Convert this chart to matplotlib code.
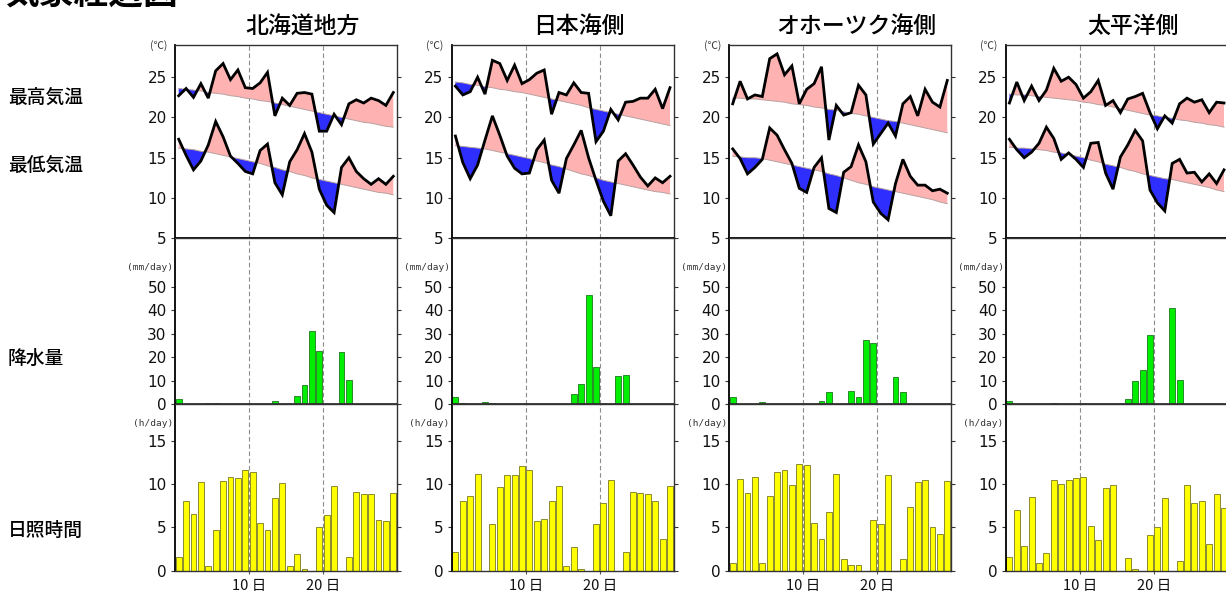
import matplotlib
matplotlib.use("Agg")
import matplotlib.pyplot as plt
import numpy as np

plt.rcParams['font.family'] = ['Noto Sans CJK JP', 'DejaVu Sans']

regions = ["北海道地方", "日本海側", "オホーツク海側", "太平洋側"]
days = list(range(1, 31))

tmax = [
    [22.7,23.6,22.5,24.2,22.4,25.8,26.7,24.7,25.9,23.7,23.6,24.3,25.6,20.2,22.4,21.5,23.0,23.1,22.9,18.3,18.3,20.4,19.1,21.7,22.2,21.8,22.4,22.1,21.5,23.1],
    [23.9,22.8,23.2,25.0,22.9,27.1,26.7,24.6,26.5,24.2,24.7,25.5,25.9,20.4,23.1,22.8,24.3,23.1,23.0,17.0,18.3,21.0,19.7,21.9,22.0,22.4,22.4,23.5,21.1,23.7],
    [21.7,24.5,22.3,22.8,22.6,27.3,27.9,25.3,26.4,21.7,23.5,24.2,26.3,17.2,21.5,20.3,20.6,24.0,22.8,16.7,18.0,19.3,17.7,21.7,22.6,20.2,23.5,21.9,21.3,24.6],
    [21.8,24.4,22.1,23.9,22.1,23.4,26.1,24.5,25.0,24.1,22.4,23.2,24.6,21.5,22.1,20.6,22.3,22.6,23.0,20.6,18.6,20.2,19.3,21.7,22.4,21.9,22.2,20.6,21.9,21.8],
]
tmax_normal = [
    [23.6,23.5,23.4,23.3,23.1,23.0,22.9,22.7,22.6,22.4,22.3,22.1,22.0,21.8,21.6,21.4,21.2,21.0,20.8,20.6,20.4,20.2,20.0,19.8,19.6,19.4,19.3,19.1,18.9,18.8],
    [24.4,24.3,24.1,24.0,23.8,23.7,23.5,23.4,23.2,23.1,22.9,22.7,22.5,22.3,22.1,21.9,21.7,21.5,21.2,21.0,20.8,20.6,20.4,20.2,20.0,19.8,19.6,19.4,19.2,19.0],
    [22.4,22.4,22.3,22.3,22.2,22.1,22.0,21.9,21.7,21.6,21.5,21.3,21.2,21.0,20.9,20.7,20.5,20.4,20.2,20.0,19.8,19.6,19.5,19.3,19.1,18.9,18.7,18.5,18.3,18.1],
    [22.9,22.8,22.8,22.7,22.6,22.5,22.4,22.3,22.2,22.1,21.9,21.8,21.6,21.5,21.3,21.1,20.9,20.7,20.5,20.3,20.2,20.0,19.9,19.7,19.6,19.4,19.3,19.1,19.0,18.8],
]
tmin = [
    [17.3,15.3,13.5,14.6,16.6,19.5,17.6,15.2,14.3,13.3,13.0,15.9,16.7,11.9,10.4,14.5,16.0,18.0,15.7,11.1,9.1,8.2,13.8,15.0,13.3,12.4,11.7,12.4,11.7,12.7],
    [17.7,14.4,12.4,14.1,17.2,20.2,17.8,15.2,13.7,13.0,13.1,16.0,17.2,12.2,10.6,14.9,16.6,18.4,15.0,12.2,9.6,7.8,14.6,15.5,14.1,12.6,11.5,12.5,11.9,12.7],
    [16.1,14.9,13.0,13.8,14.8,18.7,17.8,16.0,14.3,11.2,10.7,13.8,15.0,8.7,8.2,13.2,13.9,16.6,14.5,9.5,8.1,7.3,11.8,14.8,12.7,11.6,11.6,10.9,11.1,10.6],
    [17.3,16.0,15.0,15.7,16.8,18.8,17.4,14.8,15.6,14.8,13.8,16.8,16.9,13.1,11.1,15.1,16.6,18.4,17.1,11.0,9.4,8.4,14.3,14.8,13.1,13.2,12.0,13.0,11.8,13.5],
]
tmin_normal = [
    [16.2,16.1,16.0,15.8,15.7,15.5,15.3,15.1,14.9,14.7,14.5,14.3,14.0,13.8,13.5,13.3,13.0,12.8,12.5,12.3,12.1,11.9,11.7,11.5,11.3,11.1,10.9,10.7,10.6,10.4],
    [16.5,16.4,16.3,16.2,16.1,15.9,15.7,15.5,15.3,15.1,14.9,14.6,14.4,14.1,13.9,13.6,13.3,13.0,12.8,12.5,12.2,12.0,11.8,11.6,11.4,11.2,11.0,10.8,10.7,10.5],
    [15.2,15.1,15.0,15.0,14.9,14.7,14.5,14.3,14.1,13.9,13.7,13.5,13.3,13.0,12.8,12.5,12.2,11.9,11.7,11.4,11.2,11.0,10.8,10.6,10.4,10.2,10.0,9.8,9.5,9.3],
    [16.3,16.2,16.2,16.1,16.0,15.9,15.7,15.6,15.4,15.2,15.0,14.7,14.5,14.2,14.0,13.8,13.5,13.3,13.0,12.8,12.6,12.4,12.3,12.1,11.9,11.7,11.5,11.3,11.0,10.8],
]
precip = [
    [2.4,0.1,0,0,0.6,0.4,0.1,0,0,0,0,0,0.3,1.2,0,0.1,3.7,8.1,31.4,22.7,0,0,22.3,10.3,0,0,0,0,0,0],
    [3.0,0.4,0,0,1.1,0.7,0,0,0,0,0,0,0.3,0.1,0,0,4.3,8.6,46.7,15.9,0,0,12.1,12.4,0,0,0,0,0,0],
    [3.1,0,0,0,1.1,0,0,0,0,0,0,0,1.4,5.1,0,0.1,5.7,3.1,27.3,26.1,0,0,11.6,5.4,0,0,0,0,0,0],
    [1.3,0,0,0,0,0.3,0.4,0,0,0,0,0,0,0.1,0,0.1,2.3,10.1,14.4,29.7,0,0,41.0,10.3,0,0,0,0,0,0],
]
sunshine = [
    [1.6,8.1,6.6,10.2,0.5,4.7,10.3,10.8,10.7,11.6,11.4,5.5,4.7,8.4,10.1,0.5,1.9,0.2,0,5.0,6.4,9.8,0,1.6,9.1,8.8,8.8,5.8,5.7,9.0],
    [2.2,8.1,8.6,11.2,0,5.4,9.7,11.0,11.1,12.1,11.6,5.7,6.0,8.1,9.8,0.6,2.7,0.15,0,5.4,7.8,10.5,0,2.2,9.1,9.0,8.8,8.1,3.7,9.8],
    [0.9,10.6,9.0,10.8,0.9,8.6,11.35,11.6,9.9,12.3,12.2,5.5,3.7,6.8,11.2,1.3,0.7,0.7,0,5.8,5.4,11.0,0,1.3,7.3,10.2,10.5,5.1,4.2,10.4],
    [1.6,7.0,2.8,8.5,0.85,2.0,10.5,10.0,10.5,10.7,10.8,5.2,3.5,9.6,9.85,0,1.45,0.2,0,4.1,5.05,8.35,0,1.1,9.85,7.8,8.0,3.1,8.85,7.2],
]
row_labels = ["最高気温", "最低気温", "降水量", "日照時間"]
xtick_labels = ["10 日", "20 日"]

W, H = 1226, 591
fig = plt.figure(figsize=(W / 100, H / 100), dpi=100)

PINK = '#ffb2b2'
BLUE = '#2e2eff'
GREEN = '#00ee00'
YELLOW = '#ffff00'

col_left = [175, 451.7, 729, 1005.7]
col_w = 222
rows_px = [(45, 238.3), (238.3, 404.3), (404.3, 570.7)]

def ax_at(lpx, tpx, bpx):
    return fig.add_axes([lpx / W, (H - bpx) / H, col_w / W, (bpx - tpx) / H])

x = np.array(days) - 0.5
num_font = ['DejaVu Sans']

for i, name in enumerate(regions):
    L = col_left[i]
    axT = ax_at(L, *rows_px[0])
    axP = ax_at(L, *rows_px[1])
    axS = ax_at(L, *rows_px[2])

    for obs, nor in ((tmax[i], tmax_normal[i]), (tmin[i], tmin_normal[i])):
        o = np.array(obs); n = np.array(nor)
        axT.fill_between(x, o, n, where=o >= n, interpolate=True, color=PINK, lw=0)
        axT.fill_between(x, o, n, where=o < n, interpolate=True, color=BLUE, lw=0)
        axT.plot(x, n, color='#b8a0a0', lw=0.7)
        axT.plot(x, o, color='black', lw=2.0, solid_joinstyle='miter')
    axT.set_ylim(5, 29)
    axT.set_yticks([5, 10, 15, 20, 25])

    axP.bar(x, precip[i], width=0.8, color=GREEN, edgecolor='#2a8a2a', linewidth=0.7)
    axP.set_ylim(0, 70.7)
    axP.set_yticks([0, 10, 20, 30, 40, 50])

    axS.bar(x, sunshine[i], width=0.8, color=YELLOW, edgecolor='#8a8a30', linewidth=0.7)
    axS.set_ylim(0, 19.2)
    axS.set_yticks([0, 5, 10, 15])

    for ax in (axT, axP, axS):
        ax.set_xlim(0, 30)
        for d in (10, 20):
            ax.axvline(d, color='#8c8c8c', lw=0.8, dashes=(4, 2.5), zorder=0.5)
        ax.tick_params(axis='y', which='both', direction='out', length=3, width=0.8,
                       labelsize=11, pad=3, right=True, colors='#333333', labelcolor='#111111')
        for lab in ax.get_yticklabels():
            lab.set_family(num_font)
        ax.set_xticks([10, 20])
        ax.tick_params(axis='x', direction='out', length=2, width=0.8, colors='#555555', pad=4)
        for s in ax.spines.values():
            s.set_linewidth(1.0)
            s.set_color('#333333')
        ax.spines['left'].set_color('black')
        ax.spines['left'].set_linewidth(1.3)
    axT.set_xticklabels([])
    axP.set_xticklabels([])
    axS.set_xticklabels(xtick_labels, fontsize=10.5, color='#111111')
    axT.spines['bottom'].set_color('black')
    axT.spines['bottom'].set_linewidth(1.3)
    axP.spines['bottom'].set_color('#333333')
    axP.spines['bottom'].set_linewidth(1.3)

    # unit labels
    fig.text((L - 8) / W, 1 - 46 / H, "(℃)", ha='right', va='center', fontsize=7.5, color='#333333')
    fig.text((L - 2) / W, 1 - 268 / H, "(mm/day)", ha='right', va='center', fontsize=6.8,
             family=['DejaVu Sans Mono'], color='#333333')
    fig.text((L - 2) / W, 1 - 424 / H, "(h/day)", ha='right', va='center', fontsize=6.8,
             family=['DejaVu Sans Mono'], color='#333333')

    fig.text((L + col_w / 2 + 16) / W, 1 - 26 / H, name, ha='center', va='center', fontsize=16.5,
             color='black', fontweight='medium')

row_y = [97, 165, 358, 530]
for lab, yy in zip(row_labels, row_y):
    fig.text(8 / W, 1 - yy / H, lab, ha='left', va='center', fontsize=13.5, color='black',
             fontweight='medium')

fig.text(4 / W, 1 - 5 / H, "気象経過図", ha='left', va='baseline', fontsize=25, fontweight='bold')

fig.savefig("out.png", dpi=100)
